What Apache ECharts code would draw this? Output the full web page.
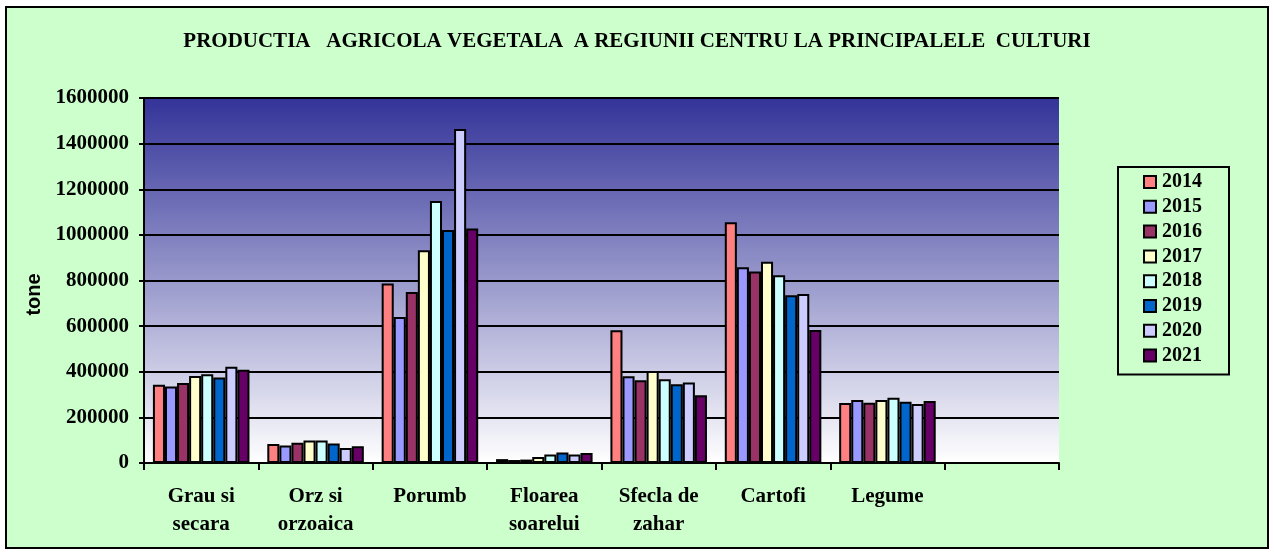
<!DOCTYPE html>
<html>
<head>
<meta charset="utf-8">
<style>
  html, body { margin: 0; padding: 0; background: #fff; }
  #chart { width: 1274px; height: 552px; }
</style>
<script src="https://cdn.jsdelivr.net/npm/echarts@6/dist/echarts.min.js"></script>
</head>
<body>
<div id="chart"></div>
<script>
const categories = ['Grau si\nsecara', 'Orz si\norzoaica', 'Porumb', 'Floarea\nsoarelui', 'Sfecla de\nzahar', 'Cartofi', 'Legume', '']
const years = ['2014', '2015', '2016', '2017', '2018', '2019', '2020', '2021']
const colors = ['#FF8080', '#9999FF', '#993366', '#FFFFCC', '#CCFFFF', '#0066CC', '#CCCCFF', '#660066']

// one array per year, in category order
const v2014 = [343000, 83000, 787000, 17000, 582000, 1055000, 263000, null]
const v2015 = [335000, 77000, 640000, 13000, 380000, 858000, 276000, null]
const v2016 = [351000, 89000, 750000, 15000, 363000, 840000, 264000, null]
const v2017 = [381000, 99000, 933000, 26000, 403000, 882000, 276000, null]
const v2018 = [389000, 99000, 1148000, 37000, 367000, 823000, 286000, null]
const v2019 = [375000, 85000, 1021000, 46000, 345000, 735000, 269000, null]
const v2020 = [422000, 66000, 1464000, 37000, 353000, 741000, 259000, null]
const v2021 = [409000, 73000, 1028000, 44000, 297000, 583000, 272000, null]
const values = [v2014, v2015, v2016, v2017, v2018, v2019, v2020, v2021]

const serif = '"Liberation Serif", "Times New Roman", serif'

const chart = echarts.init(document.getElementById('chart'))

chart.setOption({
  backgroundColor: '#fff',
  animation: false,
  graphic: [{
    type: 'rect',
    z: -1,
    shape: { x: 6, y: 7, width: 1262, height: 541 },
    style: { fill: '#CCFFCC', stroke: '#000', lineWidth: 2 }
  }],
  title: {
    text: 'PRODUCTIA   AGRICOLA VEGETALA  A REGIUNII CENTRU LA PRINCIPALELE  CULTURI',
    left: 'center',
    top: 26,
    textStyle: { fontFamily: serif, fontWeight: 'bold', fontSize: 21, color: '#000' }
  },
  legend: {
    orient: 'vertical',
    left: 1118,
    top: 167,
    padding: [5, 27, 9, 25],
    borderColor: '#000',
    borderWidth: 2,
    itemWidth: 12,
    itemHeight: 12,
    itemGap: 4.8,
    icon: 'rect',
    textStyle: { fontFamily: serif, fontWeight: 'bold', fontSize: 20, lineHeight: 20, color: '#000', padding: [0, 0, 0, 1] },
    data: years
  },
  grid: {
    left: 144,
    right: 215,
    top: 98,
    bottom: 89,
    show: true,
    borderWidth: 0,
    backgroundColor: new echarts.graphic.LinearGradient(0, 0, 0, 1, [
      { offset: 0, color: '#333399' },
      { offset: 1, color: '#FFFFFF' }
    ])
  },
  xAxis: {
    type: 'category',
    data: categories,
    axisLine: { lineStyle: { color: '#000', width: 2 } },
    axisTick: { show: true, length: 7, lineStyle: { color: '#000', width: 2 } },
    axisLabel: {
      margin: 20,
      interval: 0,
      fontFamily: serif,
      fontWeight: 'bold',
      fontSize: 21,
      lineHeight: 28,
      color: '#000'
    }
  },
  yAxis: {
    type: 'value',
    min: 0,
    max: 1600000,
    interval: 200000,
    name: 'tone',
    nameLocation: 'middle',
    nameRotate: 90,
    nameGap: 97,
    nameTextStyle: {
      fontFamily: '"Liberation Sans", Arial, sans-serif',
      fontWeight: 'bold',
      fontSize: 20,
      color: '#000',
      padding: [0, 28, 0, 0]
    },
    axisLine: { show: true, lineStyle: { color: '#000', width: 2 } },
    axisTick: { show: true, length: 5, lineStyle: { color: '#000', width: 2 } },
    axisLabel: {
      margin: 15,
      formatter: v => String(v),
      fontFamily: serif,
      fontWeight: 'bold',
      fontSize: 21,
      color: '#000'
    },
    splitLine: { show: true, lineStyle: { color: '#000', width: 2 } }
  },
  series: years.map((y, i) => ({
    name: y,
    type: 'bar',
    data: values[i],
    barGap: '0%',
    barCategoryGap: '15.6%',
    itemStyle: { color: colors[i], borderColor: '#000', borderWidth: 2 }
  }))
})
</script>
</body>
</html>
